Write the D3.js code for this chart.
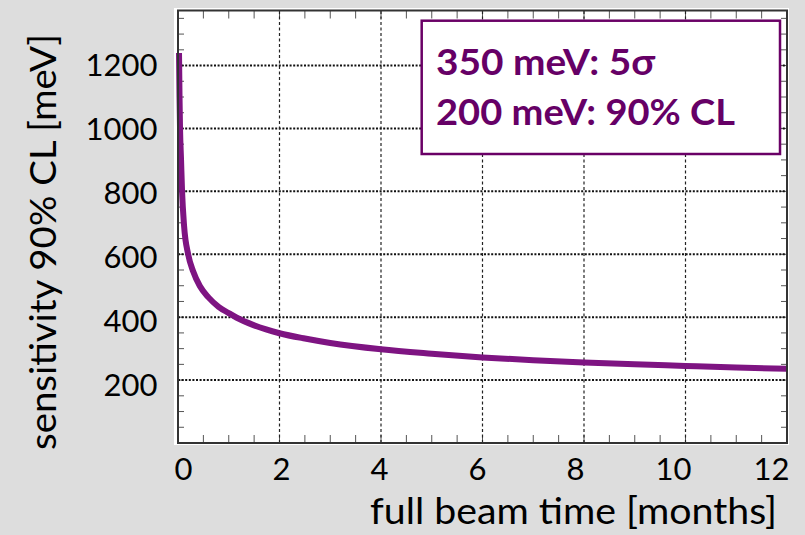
<!DOCTYPE html>
<html><head><meta charset="utf-8">
<script src="https://cdn.jsdelivr.net/npm/d3@7"></script>
<style>
html,body{margin:0;padding:0;background:#dddddd;}
svg{display:block;}
</style></head>
<body>
<script>
// ---- data ----
const months = [0.02,0.03,0.04,0.06,0.08,0.12,0.2,0.3,0.43,0.6,0.8,1.0,1.15,1.5,2,2.5,3,4,5,6,7,8,9,10,11,12];
const sensitivity = [1240,1100,1000,900,800,690,600,545,499,463,433,413,399,374,349,332,318,298,284,272,263,256,250,245,240,236];
const xTickLabels = [0,2,4,6,8,10,12];
const yTickLabels = [200,400,600,800,1000,1200];
const legendLines = ["350 meV: 5σ", "200 meV: 90% CL"];
const xTitle = "full beam time [months]";
const yTitle = "sensitivity 90% CL [meV]";

const W = 805, H = 535;
const svg = d3.select("body").append("svg").attr("width", W).attr("height", H);
svg.append("rect").attr("width", W).attr("height", H).attr("fill", "#dddddd");

const x = d3.scaleLinear().domain([0, 12]).range([178, 787]);
const y = d3.scaleLinear().domain([0, 1375]).range([443, 10.5]);
// label placement scales (labels in the source image are slightly offset from grid)
const xLab = d3.scaleLinear().domain([0, 12]).range([183, 771]);
const yLab = d3.scaleLinear().domain([200, 1200]).range([384.5, 64.5]);

// white backing panel
svg.append("rect").attr("x", 174).attr("y", 8).attr("width", 615).attr("height", 437).attr("fill", "#ffffff");

const [x0, x1] = x.range(), [y0, y1] = y.range();

// minor ticks
const g = svg.append("g");
d3.range(0.5, 12, 0.5).forEach(v => {
  g.append("line").attr("x1", x(v)).attr("x2", x(v)).attr("y1", y0).attr("y2", y0 - 8).attr("stroke", "#555").attr("stroke-width", 1);
  g.append("line").attr("x1", x(v)).attr("x2", x(v)).attr("y1", y1).attr("y2", y1 + 8).attr("stroke", "#555").attr("stroke-width", 1);
});
d3.range(50, 1375, 50).forEach(v => {
  g.append("line").attr("x1", x0).attr("x2", x0 + 6).attr("y1", y(v)).attr("y2", y(v)).attr("stroke", "#555").attr("stroke-width", 1);
  g.append("line").attr("x1", x1).attr("x2", x1 - 6).attr("y1", y(v)).attr("y2", y(v)).attr("stroke", "#555").attr("stroke-width", 1);
});

// grid
yTickLabels.forEach(v => {
  g.append("line").attr("x1", x0).attr("x2", x1).attr("y1", y(v)).attr("y2", y(v))
    .attr("stroke", "#111").attr("stroke-width", 2).attr("stroke-dasharray", "2,1.6");
});
xTickLabels.filter(v => v > 0 && v < 12).forEach(v => {
  g.append("line").attr("x1", x(v)).attr("x2", x(v)).attr("y1", y0).attr("y2", y1)
    .attr("stroke", "#222").attr("stroke-width", 1.2).attr("stroke-dasharray", "3,2.5");
});

// curve
const pts = months.map((m, i) => [m, sensitivity[i]]);
const line = d3.line().x(d => x(d[0])).y(d => y(d[1])).curve(d3.curveMonotoneX);
svg.append("path").datum(pts).attr("d", line).attr("fill", "none")
  .attr("stroke", "#7e1482").attr("stroke-width", 6).attr("stroke-linecap", "butt").attr("stroke-linejoin", "round");

// frame
svg.append("rect").attr("x", x0).attr("y", y1).attr("width", x1 - x0).attr("height", y0 - y1)
  .attr("fill", "none").attr("stroke", "#333").attr("stroke-width", 2);

// axes labels
const font = "Lato, 'Open Sans', sans-serif";
const ax = svg.append("g").attr("transform", "translate(0,480)")
  .call(d3.axisBottom(xLab).tickValues(xTickLabels).tickSize(0).tickPadding(0).tickFormat(d3.format("d")));
ax.select(".domain").remove();
ax.selectAll("text").attr("font-family", font).attr("font-size", 31).attr("fill", "#000").attr("dy", 0).attr("y", 0);

const ay = svg.append("g").attr("transform", "translate(157.5,0)")
  .call(d3.axisLeft(yLab).tickValues(yTickLabels).tickSize(0).tickPadding(0).tickFormat(d3.format("d")));
ay.select(".domain").remove();
ay.selectAll("text").attr("font-family", font).attr("font-size", 31).attr("fill", "#000").attr("dy", "0.36em").attr("x", 0);

// titles
svg.append("text").attr("x", 777).attr("y", 524).attr("text-anchor", "end")
  .attr("font-family", font).attr("font-size", 36).attr("fill", "#000")
  .attr("textLength", 407).attr("lengthAdjust", "spacingAndGlyphs").text(xTitle);
svg.append("text").attr("transform", "translate(55.5,242) rotate(-90)").attr("text-anchor", "middle")
  .attr("font-family", font).attr("font-size", 36).attr("fill", "#000")
  .attr("textLength", 416).attr("lengthAdjust", "spacingAndGlyphs").text(yTitle);

// legend box
const leg = svg.append("g");
leg.append("rect").attr("x", 421.7).attr("y", 20.7).attr("width", 358.3).attr("height", 133.3)
  .attr("fill", "#fff").attr("stroke", "#6a0066").attr("stroke-width", 2.5);
const legW = [219, 299];
legendLines.forEach((t, i) => {
  leg.append("text").attr("x", 436).attr("y", 74.5 + i * 50.5)
    .attr("font-family", font).attr("font-weight", "bold").attr("font-size", 37).attr("fill", "#660066")
    .attr("textLength", legW[i]).attr("lengthAdjust", "spacingAndGlyphs").text(t);
});
</script>
</body></html>
